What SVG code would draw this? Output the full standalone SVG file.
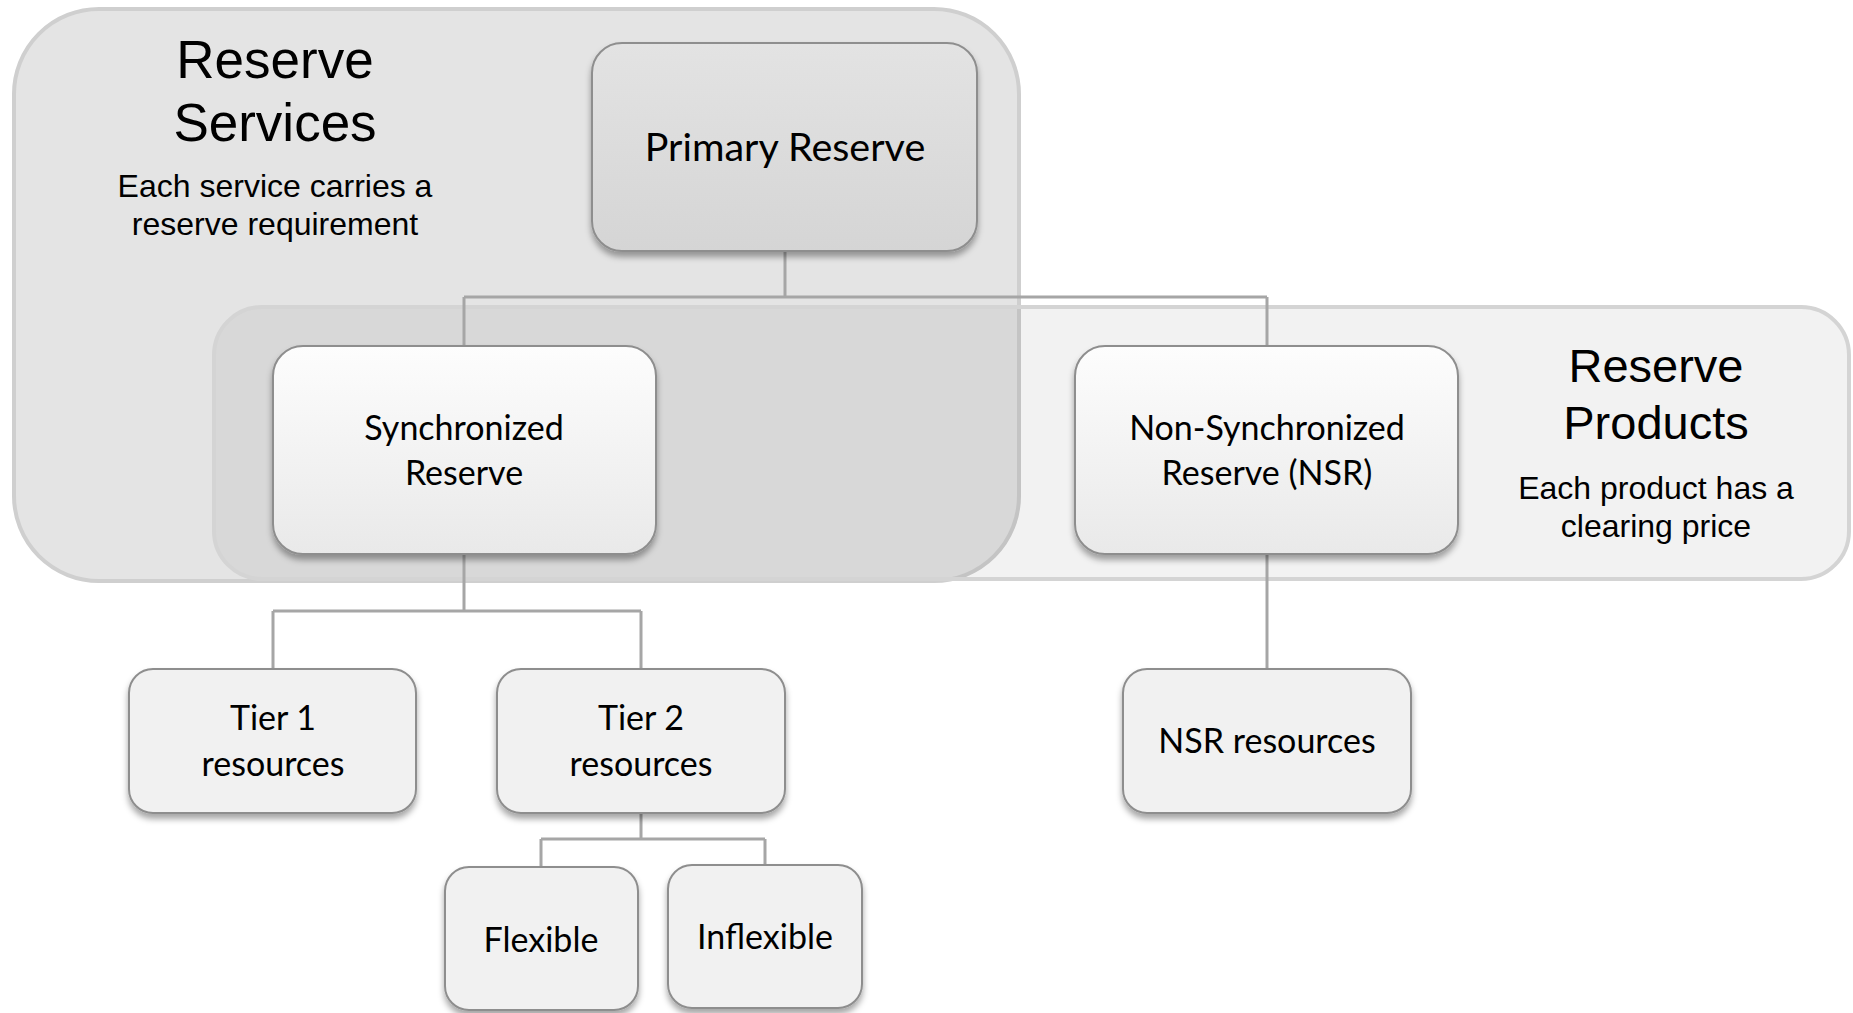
<svg xmlns="http://www.w3.org/2000/svg" width="1853" height="1013" viewBox="0 0 1853 1013">
  <defs>
    <filter id="shadow" x="-10%" y="-10%" width="120%" height="130%">
      <feDropShadow dx="0" dy="5" stdDeviation="3" flood-color="#000" flood-opacity="0.35"/>
    </filter>
    <linearGradient id="gPrimary" x1="0" y1="0" x2="0" y2="1">
      <stop offset="0" stop-color="#e3e3e3"/>
      <stop offset="1" stop-color="#d5d5d5"/>
    </linearGradient>
    <linearGradient id="gLight" x1="0" y1="0" x2="0" y2="1">
      <stop offset="0" stop-color="#fdfdfd"/>
      <stop offset="1" stop-color="#e9e9e9"/>
    </linearGradient>
  </defs>
  <style>
    .region-svc { fill: #000; fill-opacity: 0.105; stroke: #cfcfcf; stroke-width: 4; }
    .region-prd { fill: #000; fill-opacity: 0.05; stroke: #d4d4d4; stroke-width: 4; }
    .node { stroke: #8e8e8e; stroke-width: 2; filter: url(#shadow); }
    .plain { fill: #f1f1f1; }
    .conn { fill: none; stroke: #a6a6a6; stroke-width: 3; }
    .title { font-family: "Liberation Sans", Arial, sans-serif; fill: #000; text-anchor: middle; }
    .label { font-family: Lato, "Open Sans", sans-serif; font-size: 34px; fill: #000; text-anchor: middle; }
    .label.root { font-size: 39.5px; }
  </style>

  <!-- grouping regions -->
  <g id="reserve-services">
    <rect class="region-svc" x="14" y="9" width="1005" height="572" rx="85"/>
    <text class="title" x="275" y="78" font-size="53">Reserve</text>
    <text class="title" x="275" y="141" font-size="53">Services</text>
    <text class="title" x="275" y="197" font-size="32">Each service carries a</text>
    <text class="title" x="275" y="235" font-size="32">reserve requirement</text>
  </g>
  <g id="reserve-products">
    <rect class="region-prd" x="214" y="307" width="1635" height="272" rx="48"/>
    <text class="title" x="1656" y="382" font-size="47">Reserve</text>
    <text class="title" x="1656" y="439" font-size="47">Products</text>
    <text class="title" x="1656" y="499" font-size="32">Each product has a</text>
    <text class="title" x="1656" y="537" font-size="32">clearing price</text>
  </g>

  <!-- tree connectors -->
  <g id="connectors">
    <path class="conn" d="M785 251 V297 M464 297 H1267 M464 297 V346 M1267 297 V346"/>
    <path class="conn" d="M464 554 V611 M273 611 H641 M273 611 V669 M641 611 V669"/>
    <path class="conn" d="M1267 554 V669"/>
    <path class="conn" d="M641 813 V839 M541 839 H765 M541 839 V867 M765 839 V865"/>
  </g>

  <!-- nodes -->
  <g id="primary-reserve">
    <rect class="node" x="592" y="43" width="385" height="208" rx="30" fill="url(#gPrimary)"/>
    <text class="label root" x="785" y="161">Primary Reserve</text>
  </g>
  <g id="synchronized-reserve">
    <rect class="node" x="273" y="346" width="383" height="208" rx="30" fill="url(#gLight)"/>
    <text class="label" x="464" y="440">Synchronized</text>
    <text class="label" x="464" y="485">Reserve</text>
  </g>
  <g id="non-synchronized-reserve">
    <rect class="node" x="1075" y="346" width="383" height="208" rx="30" fill="url(#gLight)"/>
    <text class="label" x="1267" y="440">Non-Synchronized</text>
    <text class="label" x="1267" y="485">Reserve (NSR)</text>
  </g>
  <g id="tier1-resources">
    <rect class="node plain" x="129" y="669" width="287" height="144" rx="24"/>
    <text class="label" x="273" y="730">Tier 1</text>
    <text class="label" x="273" y="776">resources</text>
  </g>
  <g id="tier2-resources">
    <rect class="node plain" x="497" y="669" width="288" height="144" rx="24"/>
    <text class="label" x="641" y="730">Tier 2</text>
    <text class="label" x="641" y="776">resources</text>
  </g>
  <g id="nsr-resources">
    <rect class="node plain" x="1123" y="669" width="288" height="144" rx="24"/>
    <text class="label" x="1267" y="753">NSR resources</text>
  </g>
  <g id="flexible">
    <rect class="node plain" x="445" y="867" width="193" height="143" rx="24"/>
    <text class="label" x="541" y="952">Flexible</text>
  </g>
  <g id="inflexible">
    <rect class="node plain" x="668" y="865" width="194" height="143" rx="24"/>
    <text class="label" x="765" y="949">Inflexible</text>
  </g>
</svg>
